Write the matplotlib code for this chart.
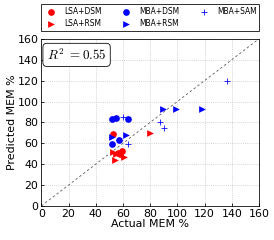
import numpy as np
import matplotlib
matplotlib.use('Agg')
import matplotlib.pyplot as plt

plt.rcParams['mathtext.fontset'] = 'cm'

# actual vs predicted MEM % for each method
lsa_dsm_x = [52.4, 56.0, 59.0, 57.5]
lsa_dsm_y = [69.0, 51.0, 52.7, 50.0]
lsa_rsm_x = [52.9, 55.0, 60.7, 54.1, 79.9]
lsa_rsm_y = [51.7, 50.0, 47.2, 44.0, 70.2]
mba_dsm_x = [51.7, 54.6, 63.5, 57.0, 51.7]
mba_dsm_y = [83.3, 84.0, 83.0, 63.2, 59.7]
mba_rsm_x = [51.7, 62.0, 89.2, 99.0, 118.4]
mba_rsm_y = [66.4, 68.0, 92.6, 92.6, 92.6]
mba_sam_x = [60.2, 63.9, 87.3, 90.2, 136.4]
mba_sam_y = [85.5, 59.0, 80.5, 75.0, 120.0]
r2 = 0.55

fig = plt.figure(figsize=(274/72, 240/72), dpi=72)
ax = fig.add_axes([0.151, 0.142, 0.794, 0.696])

ax.plot([0, 160], [0, 160], '--', color='#555555', lw=0.8, dashes=(3, 3), zorder=1)
ax.scatter(lsa_dsm_x, lsa_dsm_y, color='red', marker='o', s=45, lw=0, label='LSA+DSM', zorder=3)
ax.scatter(lsa_rsm_x, lsa_rsm_y, color='red', marker='>', s=45, lw=0, label='LSA+RSM', zorder=3)
ax.scatter(mba_dsm_x, mba_dsm_y, color='blue', marker='o', s=45, lw=0, label='MBA+DSM', zorder=3)
ax.scatter(mba_rsm_x, mba_rsm_y, color='blue', marker='>', s=45, lw=0, label='MBA+RSM', zorder=3)
ax.scatter(mba_sam_x, mba_sam_y, color='blue', marker='+', s=45, lw=0.8, label='MBA+SAM', zorder=3)

ax.set_xlim(0, 160)
ax.set_ylim(0, 160)
ax.set_xticks(np.arange(0, 161, 20))
ax.set_yticks(np.arange(0, 161, 20))
ax.tick_params(labelsize=11, length=3, direction='in', pad=3)
ax.grid(True, ls=':', color='#c0c0c0', lw=0.8)
ax.set_axisbelow(True)
ax.set_xlabel('Actual MEM %', fontsize=11, labelpad=0)
ax.set_ylabel('Predicted MEM %', fontsize=11, labelpad=0)

ax.text(0.025, 0.95, r'$R^2\ = %.2f$' % r2, transform=ax.transAxes, fontsize=13,
        va='top', ha='left',
        bbox=dict(boxstyle='round,pad=0.3', fc='white', ec='black', lw=0.8))

ax.legend(ncol=3, fontsize=7.5, loc='lower left', bbox_to_anchor=(0.0, 1.05, 1.0, 0.2),
          mode='expand', borderaxespad=0, handletextpad=0.8, scatterpoints=1,
          fancybox=False, edgecolor='black', labelspacing=0.5, borderpad=0.3)

fig.savefig('out.png', dpi=72)
